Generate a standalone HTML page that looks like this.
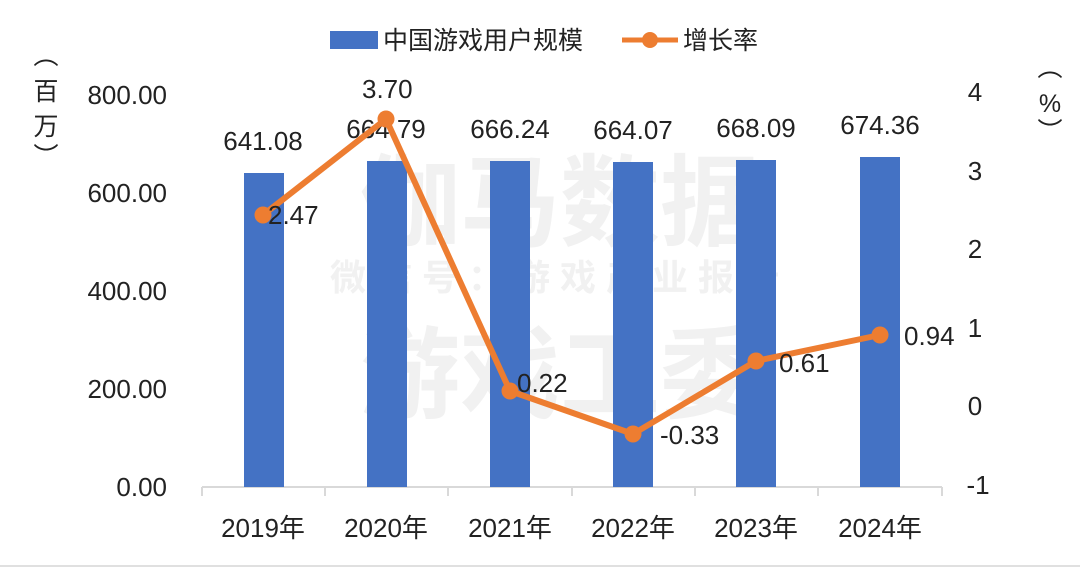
<!DOCTYPE html>
<html><head><meta charset="utf-8"><style>
body{margin:0;background:#fff;}
svg text{font-family:"Liberation Sans","Noto Sans CJK SC",sans-serif;}
</style></head><body>
<svg width="1080" height="567" xmlns="http://www.w3.org/2000/svg">
<rect width="1080" height="567" fill="#fff"/>
<g font-weight="bold" text-anchor="middle">
<text x="560" y="238" font-size="100" fill="#f1f1f1">伽马数据</text>
<text x="560" y="290" font-size="36" fill="#f1f1f1" letter-spacing="10">微信号：游戏产业报告</text>
<text x="560" y="410" font-size="100" fill="#f1f1f1">游戏工委</text>
</g>
<rect x="330" y="31" width="48" height="18" fill="#4472C4"/>
<text x="383" y="49" font-size="25" fill="#222">中国游戏用户规模</text>
<line x1="622" y1="40" x2="678" y2="40" stroke="#ED7D31" stroke-width="5"/>
<circle cx="650" cy="40" r="8" fill="#ED7D31"/>
<text x="683" y="49" font-size="25" fill="#222">增长率</text>
<g font-size="26" fill="#222" text-anchor="end">
<text x="167" y="104">800.00</text><text x="167" y="202">600.00</text>
<text x="167" y="300">400.00</text><text x="167" y="398">200.00</text>
<text x="167" y="496">0.00</text>
</g>
<g font-size="26" fill="#222" text-anchor="middle">
<text x="975" y="101">4</text><text x="975" y="180">3</text><text x="975" y="258">2</text>
<text x="975" y="337">1</text><text x="975" y="415">0</text><text x="978" y="494">-1</text>
</g>
<g font-size="25" fill="#222" text-anchor="middle">
<text x="46" y="64">︵</text><text x="46" y="100">百</text><text x="46" y="135">万</text><text x="46" y="165">︶</text>
<text x="1050" y="76">︵</text><text x="1050" y="112">%</text><text x="1050" y="140">︶</text>
</g>
<line x1="202" y1="487" x2="942" y2="487" stroke="#d9d9d9" stroke-width="2"/>
<g stroke="#d9d9d9" stroke-width="2">
<line x1="202" y1="487" x2="202" y2="496"/><line x1="325" y1="487" x2="325" y2="496"/>
<line x1="448" y1="487" x2="448" y2="496"/><line x1="572" y1="487" x2="572" y2="496"/>
<line x1="695" y1="487" x2="695" y2="496"/><line x1="818" y1="487" x2="818" y2="496"/>
<line x1="942" y1="487" x2="942" y2="496"/>
</g>
<g fill="#4472C4">
<rect x="244" y="173" width="40" height="314"/>
<rect x="367" y="161" width="40" height="326"/>
<rect x="490" y="161" width="40" height="326"/>
<rect x="613" y="162" width="40" height="325"/>
<rect x="736" y="160" width="40" height="327"/>
<rect x="860" y="157" width="40" height="330"/>
</g>
<g font-size="26" fill="#222" text-anchor="middle">
<text x="263" y="150">641.08</text><text x="386" y="138">664.79</text>
<text x="510" y="138">666.24</text><text x="633" y="139">664.07</text>
<text x="756" y="137">668.09</text><text x="880" y="134">674.36</text>
</g>
<g font-size="26" fill="#222" text-anchor="middle">
<text x="263" y="537">2019年</text><text x="386" y="537">2020年</text>
<text x="510" y="537">2021年</text><text x="633" y="537">2022年</text>
<text x="756" y="537">2023年</text><text x="880" y="537">2024年</text>
</g>
<polyline points="263,215 386,119 510,391 633,434 756,361 880,335" fill="none" stroke="#ED7D31" stroke-width="6" stroke-linejoin="round"/>
<g fill="#ED7D31">
<circle cx="263" cy="215" r="8.5"/><circle cx="386" cy="119" r="8.5"/><circle cx="510" cy="391" r="8.5"/>
<circle cx="633" cy="434" r="8.5"/><circle cx="756" cy="361" r="8.5"/><circle cx="880" cy="335" r="8.5"/>
</g>
<g font-size="26" fill="#222">
<text x="268" y="224">2.47</text><text x="362" y="98">3.70</text>
<text x="517" y="392">0.22</text><text x="660" y="444">-0.33</text>
<text x="779" y="372">0.61</text><text x="904" y="345">0.94</text>
</g>
<line x1="0" y1="566" x2="1080" y2="566" stroke="#e0e0e0" stroke-width="2"/>
</svg>
</body></html>
